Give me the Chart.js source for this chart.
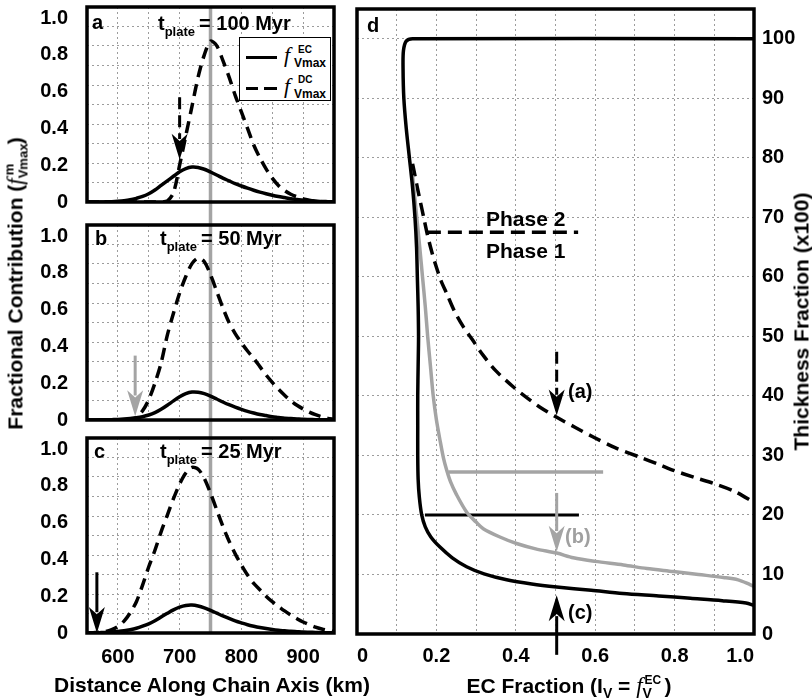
<!DOCTYPE html>
<html>
<head>
<meta charset="utf-8">
<title>Fractional contribution and EC fraction</title>
<script src="https://cdn.jsdelivr.net/npm/chart.js"></script>
<style>
  body { margin: 0; background: #fff; }
  #fig { position: relative; width: 812px; height: 700px; overflow: hidden; background: #fff;
         font-family: "Liberation Sans", Arial, sans-serif; font-weight: bold; color: #000; }
  #fig canvas { position: absolute; }
  .t { position: absolute; white-space: nowrap; line-height: 1; }
  .f { font-family: "Liberation Serif", "Times New Roman", serif; font-style: italic; font-weight: normal; }
  .ss { display: inline-block; position: relative; height: 1px; }
  .ss span { position: absolute; left: 0; line-height: 1; white-space: nowrap; }
  .rot { transform: rotate(-90deg); text-align: center; }
</style>
</head>
<body>
<div id="fig">
  <canvas id="panelA" width="345" height="213" style="left:0;top:0"></canvas>
  <canvas id="panelB" width="345" height="218" style="left:0;top:213px"></canvas>
  <canvas id="panelC" width="345" height="269" style="left:0;top:431px"></canvas>
  <canvas id="panelD" width="467" height="700" style="left:345px;top:0"></canvas>

  <!-- panel letters and plate ages -->
  <div class="t" style="left:92px;top:12px;font-size:20px">a</div>
  <div class="t" style="left:158px;top:13px;font-size:20px">t<span style="font-size:13px;position:relative;top:6px;margin-right:4px">plate</span>= 100 Myr</div>
  <div class="t" style="left:95px;top:228px;font-size:20px">b</div>
  <div class="t" style="left:160px;top:228px;font-size:20px">t<span style="font-size:13px;position:relative;top:6px;margin-right:4px">plate</span>= 50 Myr</div>
  <div class="t" style="left:94px;top:441px;font-size:20px">c</div>
  <div class="t" style="left:160px;top:441px;font-size:20px">t<span style="font-size:13px;position:relative;top:6px;margin-right:4px">plate</span>= 25 Myr</div>
  <div class="t" style="left:367px;top:15px;font-size:20px">d</div>

  <!-- legend of panel a -->
  <div style="position:absolute;left:239px;top:37px;width:92px;height:64px;border:1.5px solid #000;box-sizing:border-box;background:#fff"></div>
  <div style="position:absolute;left:246px;top:55.5px;width:31px;height:3.5px;background:#000"></div>
  <div style="position:absolute;left:246px;top:86.5px;width:12px;height:3.5px;background:#000"></div>
  <div style="position:absolute;left:264px;top:86.5px;width:13px;height:3.5px;background:#000"></div>
  <div class="t f" style="left:284px;top:44px;font-size:22px">f</div>
  <div class="t" style="left:298px;top:44.5px;font-size:10px">EC</div>
  <div class="t" style="left:294px;top:57px;font-size:12px">Vmax</div>
  <div class="t f" style="left:284px;top:75px;font-size:22px">f</div>
  <div class="t" style="left:298px;top:75px;font-size:10px">DC</div>
  <div class="t" style="left:294px;top:88px;font-size:12px">Vmax</div>

  <!-- panel d annotations -->
  <div class="t" style="left:486px;top:208px;font-size:21px">Phase 2</div>
  <div class="t" style="left:486px;top:240px;font-size:21px">Phase 1</div>
  <div class="t" style="left:568px;top:381px;font-size:20px">(a)</div>
  <div class="t" style="left:565px;top:526px;font-size:20px;color:#a0a0a0">(b)</div>
  <div class="t" style="left:568px;top:602px;font-size:20px">(c)</div>

  <!-- axis titles -->
  <div class="t" style="left:12px;top:674px;width:400px;text-align:center;font-size:21px">Distance Along Chain Axis (km)</div>
  <div class="t" style="left:369px;top:674px;width:400px;text-align:center;font-size:21px">EC Fraction (I<span style="font-size:14px;position:relative;top:5px">V</span> = <span class="f" style="font-size:23px">f</span><span class="ss" style="width:22px"><span style="font-size:12px;top:-18px;left:2px">EC</span><span style="font-size:14px;top:-6px">V</span></span>)</div>
  <div class="t rot" style="left:-155px;top:271.5px;width:340px;font-size:21px">Fractional Contribution (<span class="f" style="font-size:23px">f</span><span class="ss" style="width:34px"><span style="font-size:13px;top:-19px;left:3px">m</span><span style="font-size:13px;top:-5px">Vmax</span></span>)</div>
  <div class="t rot" style="left:650.7px;top:310.5px;width:300px;font-size:21px">Thickness Fraction (x100)</div>
</div>

<script>
// panels a-c: distance along chain axis (km) and fractional contributions
const distanceKm = [550, 560, 570, 580, 590, 600, 610, 620, 630, 640, 650, 660, 670, 680, 690, 700, 710, 720, 730, 740,
  750, 760, 770, 780, 790, 800, 810, 820, 830, 840, 850, 860, 870, 880, 890, 900, 910, 920, 930, 940, 950];

// t_plate = 100 Myr
const ecA = [0, 0, 0, 0.001, 0.002, 0.004, 0.007, 0.012, 0.02, 0.03, 0.045, 0.065, 0.09, 0.115, 0.14, 0.165, 0.182, 0.19, 0.188, 0.178,
  0.163, 0.147, 0.13, 0.115, 0.1, 0.087, 0.075, 0.064, 0.054, 0.045, 0.037, 0.03, 0.024, 0.018, 0.014, 0.01, 0.007, 0.005, 0.003, 0.002, 0.001];
const dcA = [0, 0, 0, 0, 0, 0, 0, 0, 0, 0, 0, 0, 0, 0.005, 0.05, 0.2, 0.36, 0.52, 0.68, 0.8,
  0.875, 0.85, 0.77, 0.68, 0.58, 0.49, 0.4, 0.31, 0.24, 0.18, 0.13, 0.09, 0.062, 0.042, 0.028, 0.017, 0.01, 0.005, 0.002, 0, 0];

// t_plate = 50 Myr
const ecB = [0, 0, 0.001, 0.001, 0.002, 0.003, 0.005, 0.008, 0.012, 0.018, 0.027, 0.04, 0.058, 0.08, 0.104, 0.126, 0.143, 0.152, 0.151, 0.143,
  0.13, 0.114, 0.098, 0.083, 0.07, 0.058, 0.047, 0.038, 0.03, 0.024, 0.018, 0.014, 0.01, 0.008, 0.006, 0.004, 0.003, 0.002, 0.001, 0.001, 0];
const dcB = [0, 0, 0, 0, 0, 0, 0, 0.002, 0.012, 0.05, 0.11, 0.2, 0.31, 0.46, 0.58, 0.69, 0.78, 0.85, 0.88, 0.86,
  0.79, 0.7, 0.61, 0.53, 0.47, 0.42, 0.375, 0.335, 0.29, 0.245, 0.205, 0.168, 0.135, 0.105, 0.08, 0.06, 0.043, 0.029, 0.018, 0.009, 0.004];

// t_plate = 25 Myr
const ecC = [0, 0.001, 0.002, 0.003, 0.005, 0.008, 0.012, 0.018, 0.026, 0.037, 0.05, 0.067, 0.087, 0.107, 0.126, 0.141, 0.15, 0.152, 0.147, 0.137,
  0.123, 0.108, 0.093, 0.079, 0.066, 0.055, 0.045, 0.037, 0.03, 0.024, 0.019, 0.015, 0.012, 0.009, 0.007, 0.005, 0.004, 0.003, 0.002, 0.001, 0.001];
const dcC = [0, 0.002, 0.004, 0.008, 0.018, 0.035, 0.065, 0.11, 0.17, 0.26, 0.36, 0.45, 0.55, 0.64, 0.73, 0.81, 0.87, 0.9, 0.89, 0.84,
  0.76, 0.67, 0.58, 0.5, 0.43, 0.37, 0.315, 0.27, 0.235, 0.2, 0.17, 0.145, 0.12, 0.098, 0.078, 0.06, 0.045, 0.032, 0.022, 0.014, 0.008];

const axisLineKm = 750;
// arrows: [x, from y, to y]
const arrowA = [700, 0.57, 0.23];
const arrowB = [628, 0.35, 0.02];
const arrowC = [566, 0.33, 0.0];

// panel d: EC fraction vs thickness fraction (x100)
const ecFracC = [1.0, 0.14, 0.124, 0.117, 0.116, 0.118, 0.124, 0.132, 0.14, 0.146, 0.15, 0.152, 0.154, 0.155, 0.154, 0.153, 0.153, 0.153, 0.154,
  0.157, 0.163, 0.172, 0.186, 0.209, 0.24, 0.276, 0.32, 0.377, 0.44, 0.503, 0.59, 0.67, 0.76, 0.84, 0.92, 0.98, 1.0];
const thickC = [100, 100, 99.6, 98, 95, 90, 85, 80, 75, 70, 65, 60, 55, 50, 45, 40, 35, 30, 26,
  23, 20, 18, 16.3, 14.6, 12.8, 11.3, 10.1, 9.1, 8.4, 7.9, 7.35, 6.8, 6.4, 6.0, 5.6, 5.2, 4.8];
const ecFracB = [0.14, 0.146, 0.152, 0.158, 0.165, 0.172, 0.178, 0.185, 0.192, 0.2, 0.209, 0.218, 0.226, 0.236, 0.25, 0.276,
  0.3, 0.318, 0.36, 0.402, 0.45, 0.503, 0.545, 0.6, 0.671, 0.73, 0.797, 0.86, 0.923, 0.96, 0.99, 1.0];
const thickB = [77, 73, 69, 65, 60, 55, 50, 45, 40, 36, 32.6, 29.5, 27.5, 25.5, 23.5, 20.5,
  18.8, 17.7, 16.3, 15.2, 14.3, 13.6, 12.8, 12.2, 11.6, 11.0, 10.5, 10.0, 9.5, 9.1, 8.3, 8.0];
const ecFracA = [0.14, 0.146, 0.152, 0.159, 0.168, 0.177, 0.188, 0.2, 0.212, 0.226, 0.245, 0.268, 0.29, 0.318, 0.35,
  0.394, 0.43, 0.461, 0.503, 0.55, 0.595, 0.65, 0.713, 0.76, 0.797, 0.85, 0.898, 0.95, 0.99, 1.0];
const thickA = [79, 77, 75, 72.8, 70, 67.2, 64.3, 61.6, 59.3, 57.2, 54.3, 51.6, 49.5, 46.8, 44.2,
  41.5, 39.6, 38.1, 36.4, 34.7, 33.1, 31.3, 29.7, 28.5, 27.5, 26.3, 25.3, 24, 22.5, 22];

const phaseX = [0.176, 0.557], phaseY = 67.5;
const grayBarX = [0.23, 0.62], grayBarY = 27.2;
const blackBarX = [0.171, 0.559], blackBarY = 20;
const arrowsD = [[0.503, 47.4, 36.7], [0.503, 23.7, 13.8], [0.503, -3.5, 6.5]];

const GRAY = "#a4a4a4";
const GRID = "#9c9c9c";
const LW = 3.5;
const tickFont = { family: "'Liberation Sans', Arial, sans-serif", size: 20, weight: "bold" };

function pts(xs, ys) {
  return xs.map((x, i) => ({ x: x, y: ys[i] }));
}
function fmt(v) {
  return v === 0 ? "0" : v.toFixed(1);
}

function drawArrow(chart, ar) {
  const ctx = chart.ctx;
  const px = chart.scales.x.getPixelForValue(ar.at[0]);
  const p0 = chart.scales.y.getPixelForValue(ar.at[1]);
  const p1 = chart.scales.y.getPixelForValue(ar.at[2]);
  const dir = p1 > p0 ? 1 : -1;
  const len = 26, half = 8;
  ctx.strokeStyle = ar.color;
  ctx.fillStyle = ar.color;
  ctx.lineWidth = 3;
  ctx.setLineDash(ar.dashed ? [12, 6] : []);
  ctx.beginPath();
  ctx.moveTo(px, p0);
  ctx.lineTo(px, p1 - dir * len * 0.8);
  ctx.stroke();
  ctx.setLineDash([]);
  ctx.beginPath();
  ctx.moveTo(px, p1);
  ctx.lineTo(px - half, p1 - dir * len);
  ctx.lineTo(px, p1 - dir * len * 0.72);
  ctx.lineTo(px + half, p1 - dir * len);
  ctx.closePath();
  ctx.fill();
}

// frame, gray reference line and arrows
const framePlugin = {
  id: "frame",
  beforeDatasetsDraw(chart, args, opts) {
    if (!opts.vline) return;
    const ctx = chart.ctx, a = chart.chartArea;
    const px = chart.scales.x.getPixelForValue(opts.vline.value);
    ctx.save();
    ctx.strokeStyle = GRAY;
    ctx.lineWidth = 3.5;
    ctx.beginPath();
    ctx.moveTo(px, a.top - opts.vline.up);
    ctx.lineTo(px, a.bottom + opts.vline.down);
    ctx.stroke();
    ctx.restore();
  },
  afterDatasetsDraw(chart, args, opts) {
    const ctx = chart.ctx, a = chart.chartArea;
    ctx.save();
    ctx.strokeStyle = "#000";
    ctx.lineWidth = 3.5;
    ctx.strokeRect(a.left, a.top, a.right - a.left, a.bottom - a.top);
    (opts.arrows || []).forEach((ar) => drawArrow(chart, ar));
    ctx.restore();
  }
};

function leftPanel(id, ec, dc, cfg) {
  const ctx = document.getElementById(id).getContext("2d");
  return new Chart(ctx, {
    type: "scatter",
    data: {
      datasets: [
        { data: pts(distanceKm, ec), showLine: true, borderColor: "#000", borderWidth: LW, pointRadius: 0, tension: 0.3 },
        { data: pts(distanceKm, dc), showLine: true, borderColor: "#000", borderWidth: LW, borderDash: [12, 7], pointRadius: 0, tension: 0.3 }
      ]
    },
    options: {
      responsive: false,
      animation: false,
      events: [],
      layout: { padding: { left: 0, right: 11, top: cfg.top, bottom: cfg.bottom } },
      plugins: {
        legend: { display: false },
        tooltip: { enabled: false },
        frame: { vline: { value: axisLineKm, up: cfg.up, down: cfg.down }, arrows: [cfg.arrow] }
      },
      scales: {
        x: {
          type: "linear", min: 550, max: 950,
          ticks: {
            display: cfg.showX, stepSize: 50, autoSkip: false, maxRotation: 0, padding: 12,
            font: tickFont, color: "#000",
            callback: (v) => (v % 100 === 0 ? String(v) : "")
          },
          grid: { color: GRID, lineWidth: 1, drawTicks: false },
          border: { display: false, dash: [2, 3] },
          afterFit: (s) => { s.height = cfg.xHeight; s.paddingLeft = 0; s.paddingRight = 0; }
        },
        y: {
          min: 0, max: 1.06,
          ticks: { stepSize: 0.2, includeBounds: false, padding: 19, font: tickFont, color: "#000", callback: fmt },
          grid: { display: false, drawTicks: false },
          border: { display: false },
          afterFit: (s) => { s.width = 87; s.paddingTop = 0; s.paddingBottom = 0; }
        },
        yg: {
          position: "left", min: 0, max: 1,
          ticks: { display: false, stepSize: 0.1 },
          grid: { color: GRID, lineWidth: 1, drawTicks: false },
          border: { display: false, dash: [2, 3] },
          afterFit: (s) => { s.width = 0; s.paddingTop = 0; s.paddingBottom = 0; }
        }
      }
    },
    plugins: [framePlugin]
  });
}

leftPanel("panelA", ecA, dcA, { top: 7, bottom: 11, xHeight: 0, showX: false, up: 0, down: 11,
  arrow: { at: arrowA, color: "#000", dashed: true } });
leftPanel("panelB", ecB, dcB, { top: 12, bottom: 11, xHeight: 0, showX: false, up: 12, down: 11,
  arrow: { at: arrowB, color: GRAY, dashed: false } });
leftPanel("panelC", ecC, dcC, { top: 7, bottom: 0, xHeight: 67, showX: true, up: 7, down: 0,
  arrow: { at: arrowC, color: "#000", dashed: false } });

const ctxD = document.getElementById("panelD").getContext("2d");
new Chart(ctxD, {
  type: "scatter",
  data: {
    datasets: [
      { data: pts(ecFracC, thickC), showLine: true, borderColor: "#000", borderWidth: LW, pointRadius: 0, tension: 0.3 },
      { data: pts(ecFracB, thickB), showLine: true, borderColor: GRAY, borderWidth: LW, pointRadius: 0, tension: 0.3 },
      { data: pts(ecFracA, thickA), showLine: true, borderColor: "#000", borderWidth: LW, borderDash: [13, 7], pointRadius: 0, tension: 0.3 },
      { data: pts(phaseX, [phaseY, phaseY]), showLine: true, borderColor: "#000", borderWidth: LW, borderDash: [14, 7], pointRadius: 0 },
      { data: pts(grayBarX, [grayBarY, grayBarY]), showLine: true, borderColor: GRAY, borderWidth: LW, pointRadius: 0 },
      { data: pts(blackBarX, [blackBarY, blackBarY]), showLine: true, borderColor: "#000", borderWidth: 3, pointRadius: 0 }
    ]
  },
  options: {
    responsive: false,
    animation: false,
    events: [],
    layout: { padding: { left: 12, right: 0, top: 9, bottom: 0 } },
    plugins: {
      legend: { display: false },
      tooltip: { enabled: false },
      frame: {
        arrows: [
          { at: arrowsD[0], color: "#000", dashed: true },
          { at: arrowsD[1], color: GRAY, dashed: false },
          { at: arrowsD[2], color: "#000", dashed: false }
        ]
      }
    },
    scales: {
      x: {
        type: "linear", min: 0, max: 1,
        ticks: {
          stepSize: 0.1, autoSkip: false, maxRotation: 0, padding: 10, align: "inner", font: tickFont, color: "#000",
          callback: (v) => {
            const k = Math.round(v * 10);
            return k % 2 ? "" : (k === 0 ? "0" : (k / 10).toFixed(1));
          }
        },
        grid: { color: GRID, lineWidth: 1, drawTicks: false },
        border: { display: false, dash: [2, 3] },
        afterFit: (s) => { s.height = 66; s.paddingLeft = 0; s.paddingRight = 0; }
      },
      y: {
        position: "right", min: 0, max: 105,
        ticks: { stepSize: 10, includeBounds: false, padding: 8, font: tickFont, color: "#000", callback: (v) => String(v) },
        grid: { color: GRID, lineWidth: 1, drawTicks: false },
        border: { display: false, dash: [2, 3] },
        afterFit: (s) => { s.width = 58; s.paddingTop = 0; s.paddingBottom = 0; }
      }
    }
  },
  plugins: [framePlugin]
});
</script>
</body>
</html>
